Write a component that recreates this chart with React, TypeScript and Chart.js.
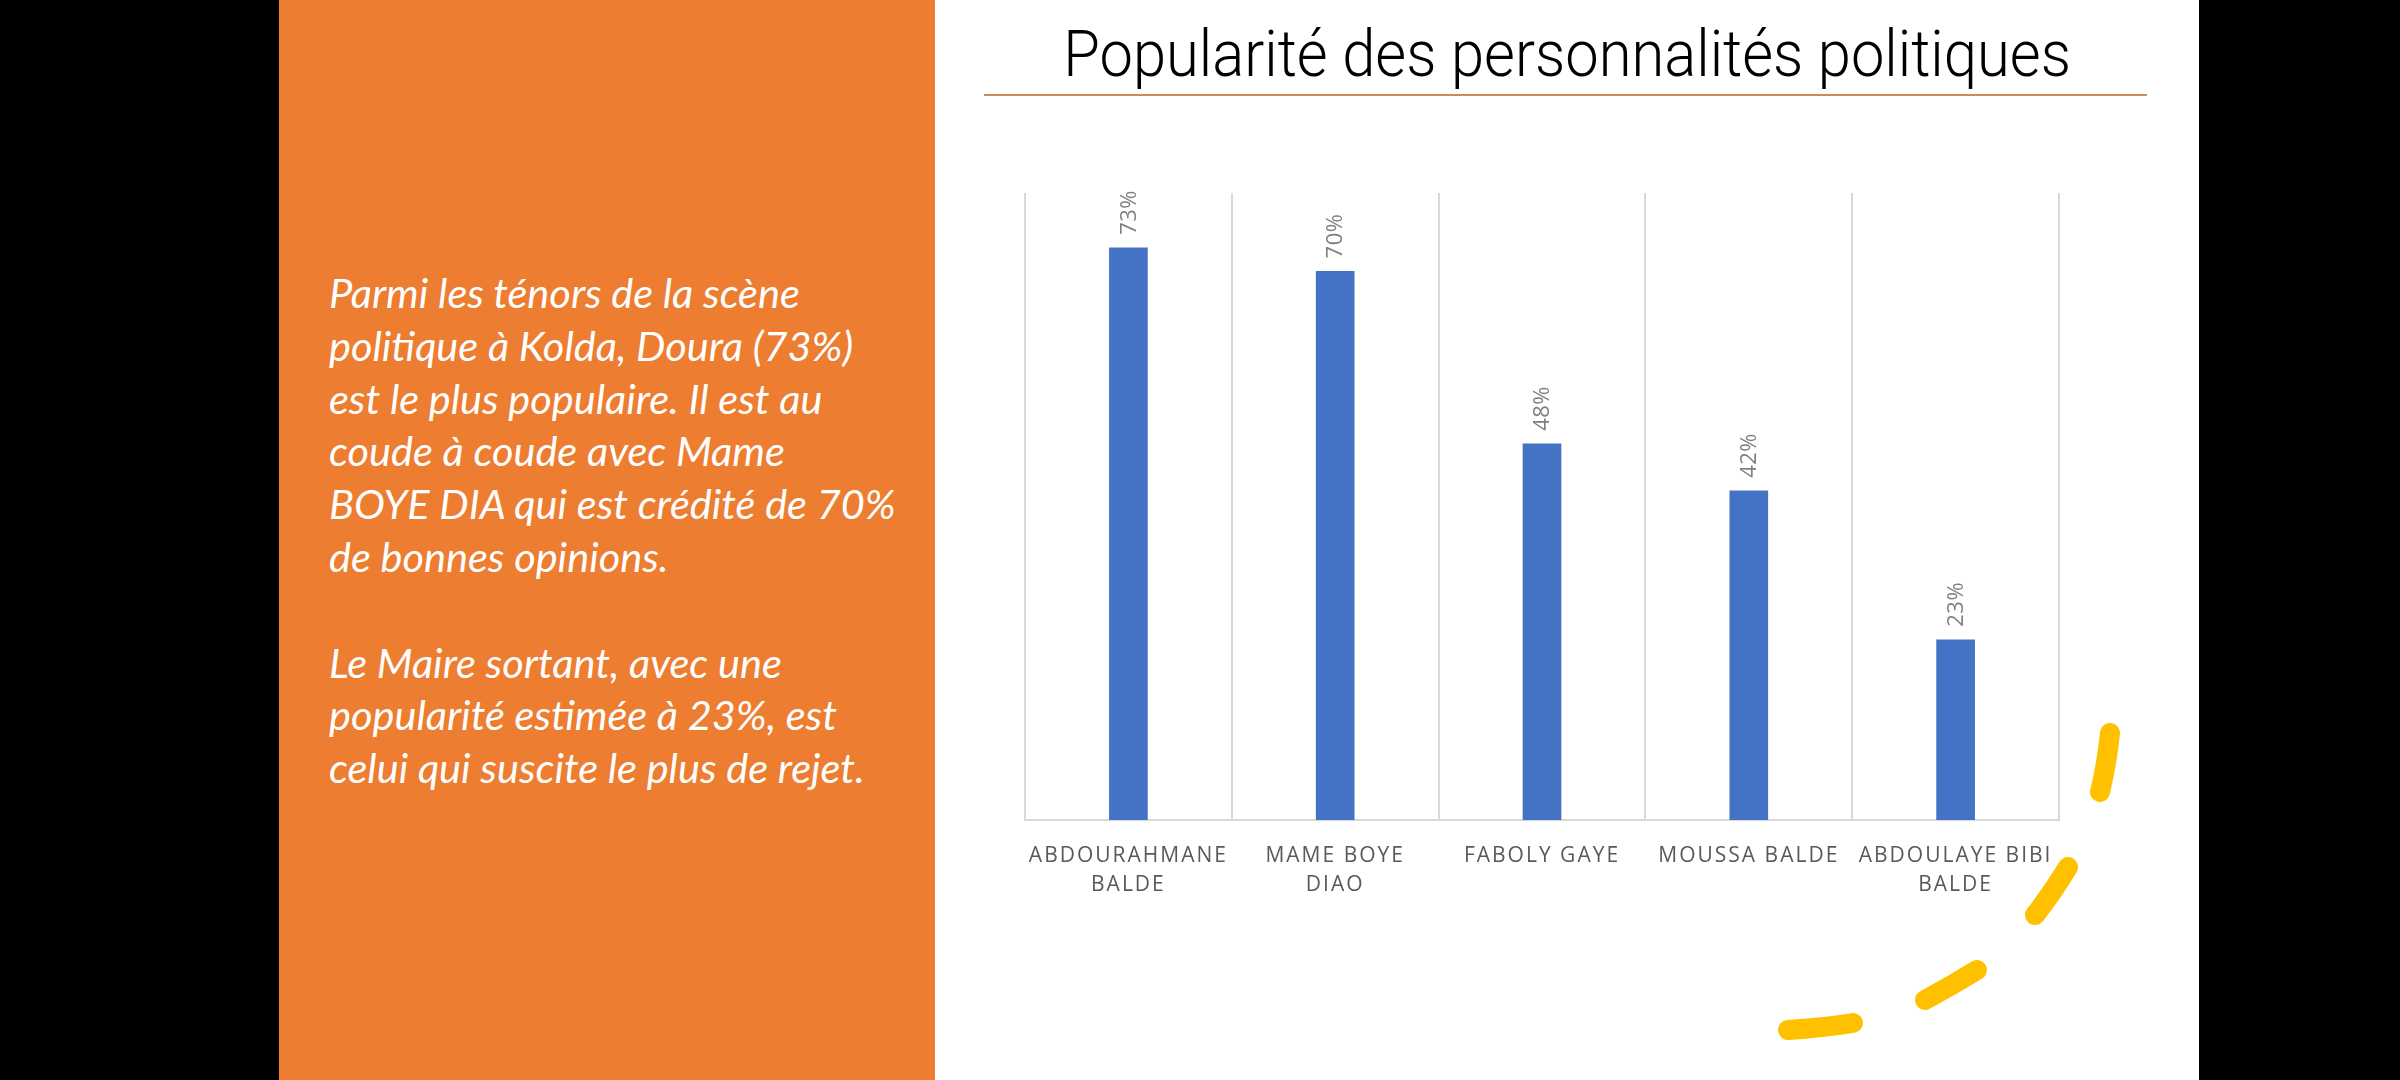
import React, { useEffect, useRef } from "react";
import { Chart, registerables } from "chart.js";

Chart.register(...registerables);

const categories: (string | string[])[] = [
  ["ABDOURAHMANE", "BALDE"],
  ["MAME BOYE", "DIAO"],
  "FABOLY GAYE",
  "MOUSSA BALDE",
  ["ABDOULAYE BIBI", "BALDE"],
];
const popularity: number[] = [73, 70, 48, 42, 23];
const yMax = 80;

const title = "Popularité des personnalités politiques";
const paragraph1: string[] = [
  "Parmi les ténors de la scène",
  "politique à Kolda, Doura (73%)",
  "est le plus populaire. Il est au",
  "coude à coude avec Mame",
  "BOYE DIA qui est crédité de 70%",
  "de bonnes opinions.",
];
const paragraph2: string[] = [
  "Le Maire sortant, avec une",
  "popularité estimée à 23%, est",
  "celui qui suscite le plus de rejet.",
];

const valueLabelPlugin = {
  id: "valueLabels",
  beforeDraw(chart: any) {
    chart.ctx.letterSpacing = "2px";
  },
  afterDatasetsDraw(chart: any) {
    const ctx = chart.ctx;
    const meta = chart.getDatasetMeta(0);
    const data = chart.data.datasets[0].data as number[];
    meta.data.forEach((bar: any, i: number) => {
      ctx.save();
      ctx.letterSpacing = "0.5px";
      ctx.translate(bar.x + 1, bar.y - 13);
      ctx.rotate(-Math.PI / 2);
      ctx.font = '22px "Open Sans"';
      ctx.fillStyle = "#7f7f7f";
      ctx.textAlign = "left";
      ctx.textBaseline = "middle";
      ctx.fillText(data[i] + "%", 0, 0);
      ctx.restore();
    });
  },
  afterDraw(chart: any) {
    chart.ctx.letterSpacing = "0px";
  },
};

function BarChart() {
  const ref = useRef<HTMLCanvasElement | null>(null);
  useEffect(() => {
    if (!ref.current) return;
    const chart = new Chart(ref.current, {
      type: "bar",
      data: {
        labels: categories,
        datasets: [
          {
            data: popularity,
            backgroundColor: "#4472C4",
            barThickness: 38,
          },
        ],
      },
      plugins: [valueLabelPlugin],
      options: {
        animation: false,
        responsive: false,
        devicePixelRatio: 1,
        layout: { padding: { left: 25, right: 31, top: 43, bottom: 0 } },
        plugins: { legend: { display: false }, tooltip: { enabled: false } },
        scales: {
          x: {
            offset: true,
            grid: {
              display: true,
              offset: true,
              color: "#d9d9d9",
              lineWidth: 2,
              drawTicks: false,
            },
            border: { display: true, color: "#d9d9d9", width: 2 },
            ticks: {
              color: "#595959",
              font: { family: "Open Sans", size: 21, lineHeight: 1.35 },
              padding: 22,
              maxRotation: 0,
              minRotation: 0,
              autoSkip: false,
            },
            afterFit: (scale: any) => {
              scale.height = 110;
            },
          },
          y: { display: false, min: 0, max: yMax },
        },
      } as any,
    });
    return () => chart.destroy();
  }, []);
  return <canvas ref={ref} width={1090} height={780} style={{ display: "block" }} />;
}

export default function App() {
  useEffect(() => {
    document.body.style.margin = "0";
  }, []);
  const lineH = 52.8;
  return (
    <div style={{ position: "absolute", left: 0, top: 0, width: 2400, height: 1080, background: "#000", overflow: "hidden" }}>
      <div style={{ position: "absolute", left: 279, top: 0, width: 656, height: 1080, background: "#ED7D31" }} />
      <div style={{ position: "absolute", left: 935, top: 0, width: 1264, height: 1080, background: "#fff" }} />
      <div
        style={{
          position: "absolute",
          left: 329,
          top: 266,
          color: "#fff",
          fontFamily: "Lato, 'Open Sans', sans-serif",
          fontStyle: "italic",
          fontSize: 41.5,
          lineHeight: lineH + "px",
          whiteSpace: "nowrap",
        }}
      >
        {paragraph1.map((l, i) => (
          <div key={"a" + i}>{l}</div>
        ))}
        <div>&nbsp;</div>
        {paragraph2.map((l, i) => (
          <div key={"b" + i}>{l}</div>
        ))}
      </div>
      <div
        style={{
          position: "absolute",
          left: 935,
          width: 1264,
          top: 17,
          textAlign: "center",
          fontFamily: "Roboto, 'Open Sans', sans-serif",
          fontWeight: 300,
          fontSize: 64,
          lineHeight: "76px",
          color: "#000",
          whiteSpace: "nowrap",
          transform: "scaleX(0.932)",
          transformOrigin: "50% 50%",
        }}
      >
        {title}
      </div>
      <div style={{ position: "absolute", left: 984, top: 94, width: 1163, height: 2, background: "#c98d5b" }} />
      <div style={{ position: "absolute", left: 1000, top: 150 }}>
        <BarChart />
      </div>
      <svg width={2400} height={1080} style={{ position: "absolute", left: 0, top: 0, pointerEvents: "none" }}>
        <g fill="none" stroke="#FFC000" strokeWidth={20} strokeLinecap="round">
          <path d="M2110 733 Q2107 763 2100 792" />
          <path d="M2068 867 Q2053 892 2035 915" />
          <path d="M1977 970 Q1951 986 1925 1000" />
          <path d="M1853 1023 Q1822 1028 1788 1030" />
        </g>
      </svg>
    </div>
  );
}
